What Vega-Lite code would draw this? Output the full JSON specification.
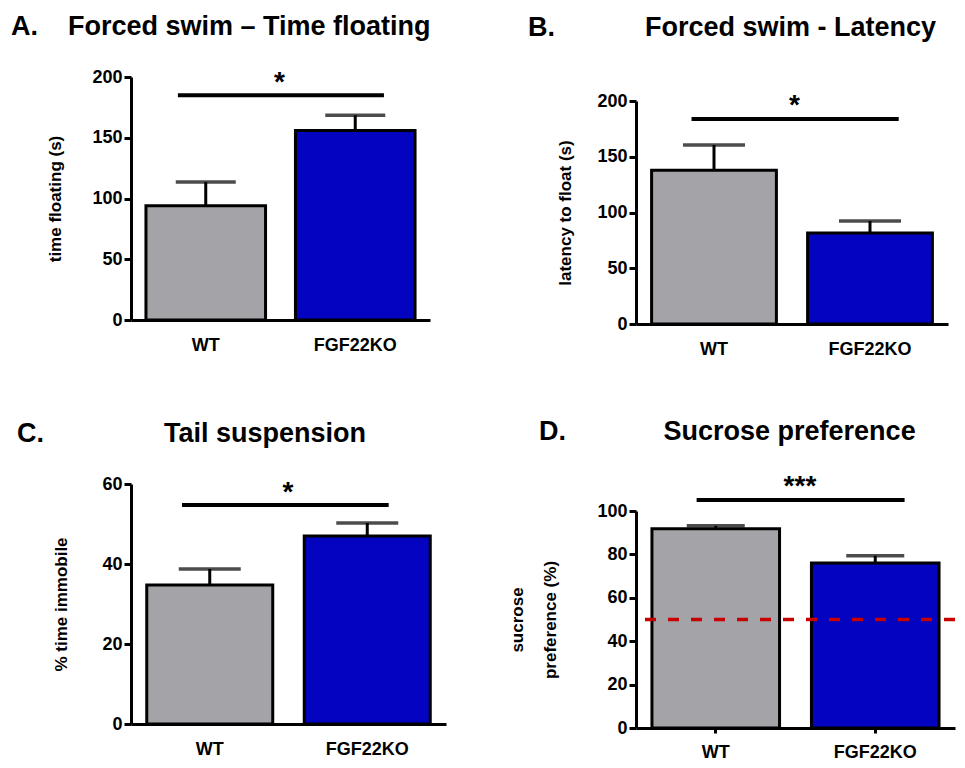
{
  "$schema": "https://vega.github.io/schema/vega-lite/v6.json",
  "padding": {"left": 11, "top": -54, "right": 0, "bottom": 0},
  "background": "white",
  "datasets": {
    "none": [],
    "barsA": [{"group": "WT", "mean": 94, "upper": 113.5}, {"group": "FGF22KO", "mean": 156, "upper": 168.5}],
    "sigA": [{"g1": "WT", "g2": "FGF22KO", "y": 185, "ys": 188.7, "star": "*"}],
    "barsB": [{"group": "WT", "mean": 138, "upper": 160.5}, {"group": "FGF22KO", "mean": 81.6, "upper": 92.4}],
    "sigB": [{"g1": "WT", "g2": "FGF22KO", "y": 183.9, "ys": 188.6, "star": "*"}],
    "barsC": [{"group": "WT", "mean": 34.75, "upper": 38.75}, {"group": "FGF22KO", "mean": 47, "upper": 50.25}],
    "sigC": [{"g1": "WT", "g2": "FGF22KO", "y": 54.75, "ys": 55.65, "star": "*"}],
    "barsD": [{"group": "WT", "mean": 91.8, "upper": 93.2}, {"group": "FGF22KO", "mean": 76, "upper": 79.4}],
    "sigD": [{"g1": "WT", "g2": "FGF22KO", "y": 105.1, "ys": 107.2, "star": "***"}],
    "refD": [{"ref": 50}]
  },
  "config": {
    "font": "Liberation Sans",
    "view": {"stroke": null},
    "axis": {
      "grid": false,
      "domainColor": "black",
      "domainWidth": 3,
      "tickColor": "black",
      "tickWidth": 3,
      "tickSize": 7,
      "labelFont": "Liberation Sans",
      "labelFontWeight": "bold",
      "labelFontSize": 18,
      "labelColor": "black",
      "titleFont": "Liberation Sans",
      "titleFontWeight": "bold",
      "titleFontSize": 17,
      "titleColor": "black"
    },
    "title": {"font": "Liberation Sans", "fontSize": 27, "fontWeight": "bold", "color": "black"}
  },
  "spacing": 62,
  "hconcat": [
    {
      "spacing": 66,
      "vconcat": [
        {"width": 10, "height": 1, "data": {"name": "none"}, "mark": "point"},
        {
          "width": 299, "height": 243,
          "title": {"text": "A.\u00a0\u00a0\u00a0\u00a0Forced swim – Time floating", "anchor": "start", "frame": "group", "dx": -120, "offset": 27},
          "layer": [
            {
              "data": {"name": "barsA"},
              "mark": {"type": "bar", "stroke": "black", "strokeWidth": 3},
              "encoding": {
                "x": {"field": "group", "type": "nominal", "scale": {"domain": ["WT", "FGF22KO"], "paddingInner": 0.2, "paddingOuter": 0.1}, "axis": {"title": null, "ticks": false, "labelAngle": 0, "labelPadding": 16}},
                "y": {"field": "mean", "type": "quantitative", "title": "time floating (s)", "scale": {"domain": [0, 200]}, "axis": {"values": [0, 50, 100, 150, 200], "titlePadding": 27}},
                "color": {"field": "group", "type": "nominal", "scale": {"domain": ["WT", "FGF22KO"], "range": ["#a3a3a8", "#0303c0"]}, "legend": null}
              }
            },
            {
              "data": {"name": "barsA"},
              "mark": {"type": "rule", "color": "black", "strokeWidth": 3},
              "encoding": {"x": {"field": "group", "type": "nominal"}, "y": {"field": "mean", "type": "quantitative", "title": "time floating (s)"}, "y2": {"field": "upper"}}
            },
            {
              "data": {"name": "barsA"},
              "mark": {"type": "tick", "color": "black", "size": 60, "thickness": 3.5},
              "encoding": {"x": {"field": "group", "type": "nominal"}, "y": {"field": "upper", "type": "quantitative", "title": "time floating (s)"}}
            },
            {
              "data": {"name": "sigA"},
              "mark": {"type": "rule", "color": "black", "strokeWidth": 4},
              "encoding": {"x": {"field": "g1", "type": "nominal", "bandPosition": 0.267}, "x2": {"field": "g2", "bandPosition": 0.74}, "y": {"field": "y", "type": "quantitative", "title": "time floating (s)"}}
            },
            {
              "data": {"name": "sigA"},
              "mark": {"type": "text", "color": "black", "fontSize": 28, "fontWeight": "bold", "baseline": "alphabetic"},
              "encoding": {"x": {"field": "g1", "type": "nominal", "bandPosition": 1.117}, "y": {"field": "ys", "type": "quantitative", "title": "time floating (s)"}, "text": {"field": "star"}}
            }
          ]
        },
        {
          "width": 315, "height": 240,
          "title": {"text": "C.\u00a0\u00a0\u00a0\u00a0\u00a0\u00a0\u00a0\u00a0\u00a0\u00a0\u00a0\u00a0\u00a0\u00a0\u00a0\u00a0Tail suspension", "anchor": "start", "frame": "group", "dx": -114, "offset": 27},
          "layer": [
            {
              "data": {"name": "barsC"},
              "mark": {"type": "bar", "stroke": "black", "strokeWidth": 3},
              "encoding": {
                "x": {"field": "group", "type": "nominal", "scale": {"domain": ["WT", "FGF22KO"], "paddingInner": 0.2, "paddingOuter": 0.1}, "axis": {"title": null, "ticks": false, "labelAngle": 0, "labelPadding": 16}},
                "y": {"field": "mean", "type": "quantitative", "title": "% time immobile", "scale": {"domain": [0, 60]}, "axis": {"values": [0, 20, 40, 60], "titlePadding": 31}},
                "color": {"field": "group", "type": "nominal", "scale": {"domain": ["WT", "FGF22KO"], "range": ["#a3a3a8", "#0303c0"]}, "legend": null}
              }
            },
            {
              "data": {"name": "barsC"},
              "mark": {"type": "rule", "color": "black", "strokeWidth": 3},
              "encoding": {"x": {"field": "group", "type": "nominal"}, "y": {"field": "mean", "type": "quantitative", "title": "% time immobile"}, "y2": {"field": "upper"}}
            },
            {
              "data": {"name": "barsC"},
              "mark": {"type": "tick", "color": "black", "size": 62, "thickness": 3.5},
              "encoding": {"x": {"field": "group", "type": "nominal"}, "y": {"field": "upper", "type": "quantitative", "title": "% time immobile"}}
            },
            {
              "data": {"name": "sigC"},
              "mark": {"type": "rule", "color": "black", "strokeWidth": 4},
              "encoding": {"x": {"field": "g1", "type": "nominal", "bandPosition": 0.28}, "x2": {"field": "g2", "bandPosition": 0.67}, "y": {"field": "y", "type": "quantitative", "title": "% time immobile"}}
            },
            {
              "data": {"name": "sigC"},
              "mark": {"type": "text", "color": "black", "fontSize": 28, "fontWeight": "bold", "baseline": "alphabetic"},
              "encoding": {"x": {"field": "g1", "type": "nominal", "bandPosition": 1.12}, "y": {"field": "ys", "type": "quantitative", "title": "% time immobile"}, "text": {"field": "star"}}
            }
          ]
        }
      ]
    },
    {
      "spacing": 60,
      "vconcat": [
        {"width": 10, "height": 7, "data": {"name": "none"}, "mark": "point"},
        {
          "width": 312, "height": 223,
          "title": {"text": "B.\u00a0\u00a0\u00a0\u00a0\u00a0\u00a0\u00a0\u00a0\u00a0\u00a0\u00a0\u00a0Forced swim - Latency", "anchor": "start", "frame": "group", "dx": -108, "offset": 50},
          "layer": [
            {
              "data": {"name": "barsB"},
              "mark": {"type": "bar", "stroke": "black", "strokeWidth": 3},
              "encoding": {
                "x": {"field": "group", "type": "nominal", "scale": {"domain": ["WT", "FGF22KO"], "paddingInner": 0.2, "paddingOuter": 0.1}, "axis": {"title": null, "ticks": false, "labelAngle": 0, "labelPadding": 16}},
                "y": {"field": "mean", "type": "quantitative", "title": "latency to float (s)", "scale": {"domain": [0, 200]}, "axis": {"values": [0, 50, 100, 150, 200], "titlePadding": 22}},
                "color": {"field": "group", "type": "nominal", "scale": {"domain": ["WT", "FGF22KO"], "range": ["#a3a3a8", "#0303c0"]}, "legend": null}
              }
            },
            {
              "data": {"name": "barsB"},
              "mark": {"type": "rule", "color": "black", "strokeWidth": 3},
              "encoding": {"x": {"field": "group", "type": "nominal"}, "y": {"field": "mean", "type": "quantitative", "title": "latency to float (s)"}, "y2": {"field": "upper"}}
            },
            {
              "data": {"name": "barsB"},
              "mark": {"type": "tick", "color": "black", "size": 62, "thickness": 3.5},
              "encoding": {"x": {"field": "group", "type": "nominal"}, "y": {"field": "upper", "type": "quantitative", "title": "latency to float (s)"}}
            },
            {
              "data": {"name": "sigB"},
              "mark": {"type": "rule", "color": "black", "strokeWidth": 4},
              "encoding": {"x": {"field": "g1", "type": "nominal", "bandPosition": 0.32}, "x2": {"field": "g2", "bandPosition": 0.73}, "y": {"field": "y", "type": "quantitative", "title": "latency to float (s)"}}
            },
            {
              "data": {"name": "sigB"},
              "mark": {"type": "text", "color": "black", "fontSize": 28, "fontWeight": "bold", "baseline": "alphabetic"},
              "encoding": {"x": {"field": "g1", "type": "nominal", "bandPosition": 1.144}, "y": {"field": "ys", "type": "quantitative", "title": "latency to float (s)"}, "text": {"field": "star"}}
            }
          ]
        },
        {
          "width": 319, "height": 217,
          "title": {"text": "D.\u00a0\u00a0\u00a0\u00a0\u00a0\u00a0\u00a0\u00a0\u00a0\u00a0\u00a0\u00a0\u00a0Sucrose preference", "anchor": "start", "frame": "group", "dx": -97, "offset": 27},
          "layer": [
            {
              "data": {"name": "barsD"},
              "mark": {"type": "bar", "stroke": "black", "strokeWidth": 3},
              "encoding": {
                "x": {"field": "group", "type": "nominal", "scale": {"domain": ["WT", "FGF22KO"], "paddingInner": 0.2, "paddingOuter": 0.1}, "axis": {"title": null, "ticks": true, "tickSize": 5, "labelAngle": 0, "labelPadding": 10}},
                "y": {"field": "mean", "type": "quantitative", "title": ["sucrose", "preference (%)"], "scale": {"domain": [0, 100]}, "axis": {"values": [0, 20, 40, 60, 80, 100], "titlePadding": 37, "titleLineHeight": 33}},
                "color": {"field": "group", "type": "nominal", "scale": {"domain": ["WT", "FGF22KO"], "range": ["#a3a3a8", "#0303c0"]}, "legend": null}
              }
            },
            {
              "data": {"name": "barsD"},
              "mark": {"type": "rule", "color": "black", "strokeWidth": 3},
              "encoding": {"x": {"field": "group", "type": "nominal"}, "y": {"field": "mean", "type": "quantitative", "title": ["sucrose", "preference (%)"]}, "y2": {"field": "upper"}}
            },
            {
              "data": {"name": "barsD"},
              "mark": {"type": "tick", "color": "black", "size": 58, "thickness": 3.5},
              "encoding": {"x": {"field": "group", "type": "nominal"}, "y": {"field": "upper", "type": "quantitative", "title": ["sucrose", "preference (%)"]}}
            },
            {
              "data": {"name": "refD"},
              "mark": {"type": "rule", "color": "#c80000", "strokeWidth": 3.5, "strokeDash": [11, 12]},
              "encoding": {"y": {"field": "ref", "type": "quantitative", "title": ["sucrose", "preference (%)"]}}
            },
            {
              "data": {"name": "sigD"},
              "mark": {"type": "rule", "color": "black", "strokeWidth": 4},
              "encoding": {"x": {"field": "g1", "type": "nominal", "bandPosition": 0.35}, "x2": {"field": "g2", "bandPosition": 0.73}, "y": {"field": "y", "type": "quantitative", "title": ["sucrose", "preference (%)"]}}
            },
            {
              "data": {"name": "sigD"},
              "mark": {"type": "text", "color": "black", "fontSize": 28, "fontWeight": "bold", "baseline": "alphabetic"},
              "encoding": {"x": {"field": "g1", "type": "nominal", "bandPosition": 1.16}, "y": {"field": "ys", "type": "quantitative", "title": ["sucrose", "preference (%)"]}, "text": {"field": "star"}}
            }
          ]
        }
      ]
    }
  ]
}
